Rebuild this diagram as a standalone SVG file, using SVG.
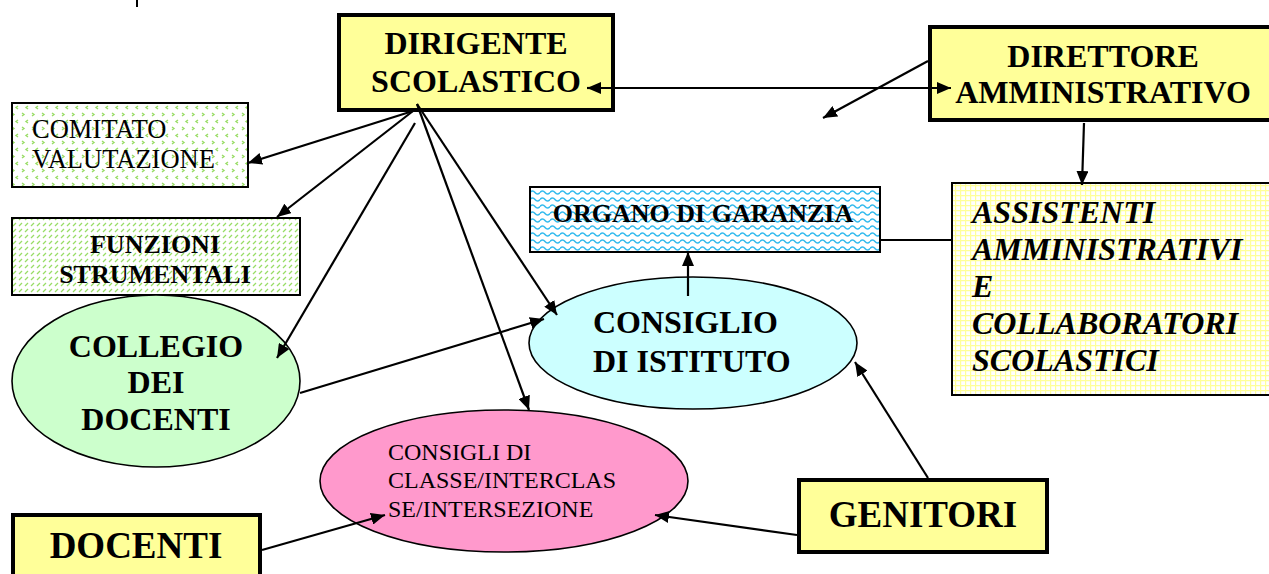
<svg xmlns="http://www.w3.org/2000/svg" width="1269" height="574" viewBox="0 0 1269 574">
<style>
text{font-family:'Liberation Serif','Times New Roman','DejaVu Serif',serif;fill:#000}
.b{font-weight:bold}
.i{font-style:italic}
.thick{stroke:#000;stroke-width:4}
.thin{stroke:#000;stroke-width:2}
.ell{stroke:#000;stroke-width:1.6}
.ln{stroke:#000;stroke-width:2.2;fill:none}
</style>
<defs>
<marker id="ah" viewBox="0 0 14 12" refX="14" refY="6" markerWidth="14" markerHeight="12" markerUnits="userSpaceOnUse" orient="auto">
<path d="M0,0 L14,6 L0,12 Z" fill="#000"/>
</marker>
<pattern id="pChev" width="10" height="14" patternUnits="userSpaceOnUse">
<rect width="10" height="14" fill="#fff"/>
<path d="M2,1 L4,2.5 L2,4 M8,8 L6,9.5 L8,11" stroke="#99dd66" stroke-width="1.4" fill="none"/>
</pattern>
<pattern id="pDiag" width="6" height="6" patternUnits="userSpaceOnUse">
<rect width="6" height="6" fill="#fff"/>
<path d="M1,4 L4,1" stroke="#99dd66" stroke-width="1.3" fill="none"/>
</pattern>
<pattern id="pWave" width="10" height="7" patternUnits="userSpaceOnUse">
<rect width="10" height="7" fill="#fff"/>
<path d="M0,3.5 Q2.5,0.5 5,3.5 T10,3.5" stroke="#33bbee" stroke-width="1.6" fill="none"/>
</pattern>
<pattern id="pGrid" width="5" height="5" patternUnits="userSpaceOnUse">
<rect width="5" height="5" fill="#fff"/>
<path d="M0,0.5 H5 M0.5,0 V5" stroke="#ffff99" stroke-width="1.4" fill="none"/>
</pattern>
</defs>
<rect width="1269" height="574" fill="#fff"/>
<line x1="137" y1="0" x2="137" y2="7" stroke="#000" stroke-width="2"/>

<g font-family="'Liberation Serif','Times New Roman','DejaVu Serif',serif">
<g id="dirigente">
<rect class="thick" x="339" y="15" width="274" height="95" fill="#ffff99"/>
<text class="b" x="476" y="54" font-size="32" text-anchor="middle">DIRIGENTE</text>
<text class="b" x="476" y="92" font-size="32" text-anchor="middle">SCOLASTICO</text>
</g>

<g id="direttore">
<rect class="thick" x="930" y="27" width="345" height="93" fill="#ffff99"/>
<text class="b" x="1103" y="67" font-size="32" text-anchor="middle">DIRETTORE</text>
<text class="b" x="1103" y="103" font-size="32" text-anchor="middle">AMMINISTRATIVO</text>
</g>

<g id="comitato">
<rect class="thin" x="12" y="103" width="236" height="84" fill="url(#pChev)"/>
<text x="32" y="138" font-size="26.5">COMITATO</text>
<text x="32" y="168" font-size="26.5">VALUTAZIONE</text>
</g>

<g id="funzioni">
<rect class="thin" x="12" y="218" width="288" height="77" fill="url(#pDiag)"/>
<text class="b" x="155" y="253" font-size="26" text-anchor="middle">FUNZIONI</text>
<text class="b" x="155" y="283" font-size="26" text-anchor="middle">STRUMENTALI</text>
</g>

<g id="organo">
<rect class="thin" x="530" y="187" width="350" height="65" fill="url(#pWave)"/>
<text class="b" x="703" y="222" font-size="26" text-anchor="middle">ORGANO DI GARANZIA</text>
</g>

<g id="assistenti">
<rect class="thin" x="952" y="183" width="320" height="212" fill="url(#pGrid)"/>
<text class="b i" x="972" y="223" font-size="32">ASSISTENTI</text>
<text class="b i" x="972" y="260" font-size="32">AMMINISTRATIVI</text>
<text class="b i" x="972" y="297" font-size="32">E</text>
<text class="b i" x="972" y="334" font-size="32">COLLABORATORI</text>
<text class="b i" x="972" y="371" font-size="32">SCOLASTICI</text>
</g>

<g id="consiglio-istituto">
<ellipse class="ell" cx="693" cy="343" rx="164" ry="66" fill="#ccffff"/>
<text class="b" x="593" y="333" font-size="32">CONSIGLIO</text>
<text class="b" x="593" y="372" font-size="32">DI ISTITUTO</text>
</g>

<g id="collegio">
<ellipse class="ell" cx="156" cy="381" rx="144" ry="86" fill="#ccffcc"/>
<text class="b" x="156" y="357" font-size="32" text-anchor="middle">COLLEGIO</text>
<text class="b" x="156" y="393" font-size="32" text-anchor="middle">DEI</text>
<text class="b" x="156" y="430" font-size="32" text-anchor="middle">DOCENTI</text>
</g>

<g id="consigli-classe">
<ellipse class="ell" cx="504" cy="481" rx="184" ry="71" fill="#ff99cc"/>
<text x="388" y="460" font-size="24">CONSIGLI DI</text>
<text x="388" y="488" font-size="24">CLASSE/INTERCLAS</text>
<text x="388" y="517" font-size="24">SE/INTERSEZIONE</text>
</g>

<g id="docenti">
<rect class="thick" x="13" y="515" width="247" height="70" fill="#ffff99"/>
<text class="b" x="136" y="558" font-size="37" text-anchor="middle">DOCENTI</text>
</g>

<g id="genitori">
<rect class="thick" x="799" y="480" width="248" height="72" fill="#ffff99"/>
<text class="b" x="923" y="527" font-size="37" text-anchor="middle">GENITORI</text>
</g>
</g>

<g id="connectors">
<line class="ln" x1="600" y1="88" x2="951" y2="88" marker-end="url(#ah)"/>
<line class="ln" x1="600" y1="88" x2="587" y2="88" marker-end="url(#ah)"/>
<line class="ln" x1="928" y1="61" x2="823" y2="118" marker-end="url(#ah)"/>
<line class="ln" x1="1084" y1="123" x2="1082" y2="185" marker-end="url(#ah)"/>
<line class="ln" x1="880" y1="240" x2="952" y2="240"/>
<line class="ln" x1="413" y1="111" x2="248" y2="163" marker-end="url(#ah)"/>
<line class="ln" x1="413" y1="111" x2="277" y2="217" marker-end="url(#ah)"/>
<line class="ln" x1="415" y1="123" x2="277" y2="358" marker-end="url(#ah)"/>
<line class="ln" x1="417" y1="104" x2="557" y2="315" marker-end="url(#ah)"/>
<line class="ln" x1="417" y1="104" x2="529" y2="410" marker-end="url(#ah)"/>
<line class="ln" x1="688" y1="296" x2="688" y2="252" marker-end="url(#ah)"/>
<line class="ln" x1="300" y1="393" x2="544" y2="319" marker-end="url(#ah)"/>
<line class="ln" x1="928" y1="478" x2="855" y2="362" marker-end="url(#ah)"/>
<line class="ln" x1="797" y1="535" x2="655" y2="515" marker-end="url(#ah)"/>
<line class="ln" x1="262" y1="550" x2="385" y2="515" marker-end="url(#ah)"/>
</g>
</svg>
